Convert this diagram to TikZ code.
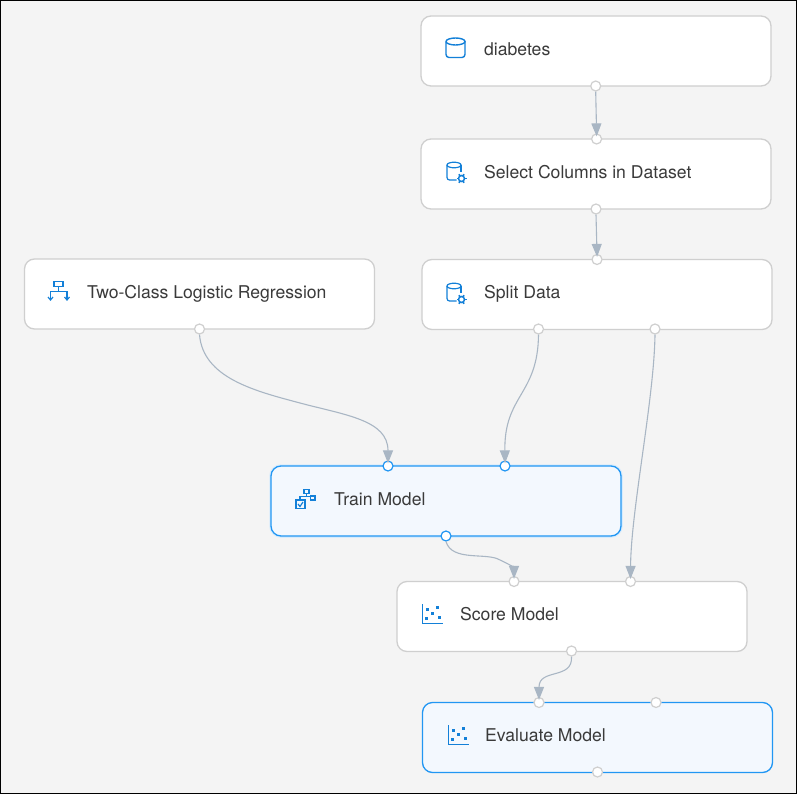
\documentclass[tikz,border=0pt]{standalone}
\usepackage{fontspec}
\setmainfont{TeX Gyre Heros}
\usetikzlibrary{arrows.meta}
\definecolor{bgc}{HTML}{F4F4F4}
\definecolor{edgec}{HTML}{CFCFCF}
\definecolor{selc}{HTML}{2196F3}
\definecolor{selfill}{HTML}{F3F8FE}
\definecolor{iconc}{HTML}{1380D8}
\definecolor{linkc}{HTML}{A9B6C4}
\definecolor{txtc}{HTML}{3A3A3A}
\tikzset{
  x=1pt,y=-1pt,
  modbox/.style={draw=edgec,fill=white,line width=1.3pt,rounded corners=10pt,minimum width=350pt,minimum height=70pt,inner sep=0pt},
  selbox/.style={modbox,draw=selc,fill=selfill},
  glow/.style={draw=selc!18,line width=3.5pt,rounded corners=10pt,minimum width=350pt,minimum height=70pt,inner sep=0pt},
  label/.style={anchor=base west,inner sep=0pt,text=txtc,font=\fontsize{17.6}{20}\selectfont},
  portc/.style={circle,draw=edgec,fill=white,line width=1.2pt,minimum size=10pt,inner sep=0pt},
  portsel/.style={portc,draw=selc},
  conn/.style={draw=linkc,line width=1.1pt,-{Triangle[width=10pt,length=13pt,fill=linkc]},shorten >=-3pt},
  ic/.style={draw=iconc,line width=1.2pt,fill=none},
  pics/cyl/.style={code={
    \draw[ic,line width=1.4pt] (-9.5,-6.5) arc[start angle=180,end angle=-180,x radius=9.5,y radius=3.5];
    \draw[ic,line width=1.4pt,rounded corners=3pt] (-9.5,-6.5) -- (-9.5,9.5) -- (9.5,9.5) -- (9.5,-6.5);
  }},
  pics/cylgear/.style={code={
    \draw[ic] (-7,-6) arc[start angle=180,end angle=-180,x radius=7,y radius=2.8];
    \draw[ic,rounded corners=2.5pt] (-7,-6) -- (-7,9) -- (2.5,9);
    \draw[ic] (7,-6) -- (7,1);
    \draw[iconc,line width=1.5pt] (7.5,7.5) circle[radius=3];
    \foreach \a in {0,60,...,300}{\draw[iconc,line width=1.6pt] (7.5,7.5) ++(\a:3) -- ++(\a:2);}
  }},
  pics/split/.style={code={
    \draw[ic] (-5,-9.5) rectangle (4,-4.5);
    \draw[ic] (-0.5,-4.5) -- (-0.5,0.5);
    \draw[ic] (-8.5,8) -- (-8.5,0.5) -- (8,0.5) -- (8,8);
    \draw[ic] (-11,6) -- (-8.5,9) -- (-6,6);
    \draw[ic] (5.5,6) -- (8,9) -- (10.5,6);
  }},
  pics/train/.style={code={
    \draw[ic] (-1,-9.5) rectangle (4,-5.5);
    \draw[ic] (1.5,-5.5) -- (1.5,-2.5) -- (-5,-2.5) -- (-5,1);
    \draw[ic] (1.5,-2.5) -- (5,-2.5);
    \draw[ic] (5.5,-3) rectangle (10,1);
    \draw[ic,line width=1.3pt] (-9,1) rectangle (0,9.5);
    \draw[ic] (-7,5) -- (-5,7.5) -- (-2,3);
  }},
  pics/scatter/.style={code={
    \draw[iconc,line width=1.4pt] (-9.5,-10) -- (-9.5,9.5) -- (10.5,9.5);
    \foreach \p/\q in {-5/-5,5/-7,0.5/-0.5,-5.5/4.5,7/3}{\fill[iconc] (\p-1.5,\q-1.5) rectangle (\p+1.5,\q+1.5);}
  }},
}
\begin{document}
\begin{tikzpicture}
\useasboundingbox (0,0) rectangle (797,794);
\fill[bgc] (0,0) rectangle (797,794);
\draw[black,line width=1pt] (0.5,0.5) rectangle (796.5,793.5);
% modules
\node[modbox] (diabetes) at (596,51) {};
\node[modbox] (select) at (596,174) {};
\node[modbox] (split) at (597,294.5) {};
\node[modbox] (logreg) at (199.5,294) {};
\node[glow] (trainglow) at (446,501) {};
\node[selbox] (train) at (446,501) {};
\node[modbox] (score) at (572,616.5) {};
\node[selbox] (evaluate) at (597.5,737.5) {};
% icons
\pic at (455.5,48) {cyl};
\pic at (454,171) {cylgear};
\pic at (454,292) {cylgear};
\pic at (59,291) {split};
\pic at (305,499) {train};
\pic at (432,614) {scatter};
\pic at (458,735) {scatter};
% labels
\node[label] (tdiabetes) at (484,55.7) {diabetes};
\node[label] (tselect) at (484,178.7) {Select Columns in Dataset};
\node[label] (tsplit) at (484,298) {Split Data};
\node[label] (tlogreg) at (87,298) {Two-Class Logistic Regression};
\node[label] (ttrain) at (334,505) {Train Model};
\node[label] (tscore) at (460,620) {Score Model};
\node[label] (tevaluate) at (485,741) {Evaluate Model};
% ports
\node[portc] (p1) at (595.7,86) {};
\node[portc] (p2) at (596.6,139) {};
\node[portc] (p3) at (596,209) {};
\node[portc] (p4) at (597,259.5) {};
\node[portc] (p5) at (538.5,329) {};
\node[portc] (p6) at (655,329) {};
\node[portc] (p7) at (199.5,329) {};
\node[portsel] (p8) at (388,466) {};
\node[portsel] (p9) at (505,466) {};
\node[portsel] (p10) at (446,536) {};
\node[portc] (p11) at (514,581.5) {};
\node[portc] (p12) at (630.5,581.5) {};
\node[portc] (p13) at (571.5,651) {};
\node[portc] (p14) at (539,702.5) {};
\node[portc] (p15) at (656,702.5) {};
\node[portc] (p16) at (597.5,772) {};
% connectors
\draw[conn] (p1.south) -- (p2.north);
\draw[conn] (p3.south) -- (p4.north);
\draw[conn] (p7.south) .. controls (203,378) and (255,391) .. (300,403) .. controls (345,415) and (388,420) .. (p8.north);
\draw[conn] (p5.south) .. controls (538,395) and (504,395) .. (p9.north);
\draw[conn] (p6.south) .. controls (654,400) and (631,510) .. (p12.north);
\draw[conn] (p10.south) .. controls (452,562) and (487,552) .. (500,560) .. controls (509,564) and (514,568) .. (p11.north);
\draw[conn] (p13.south) .. controls (573,680) and (539,668) .. (p14.north);
\end{tikzpicture}
\end{document}
